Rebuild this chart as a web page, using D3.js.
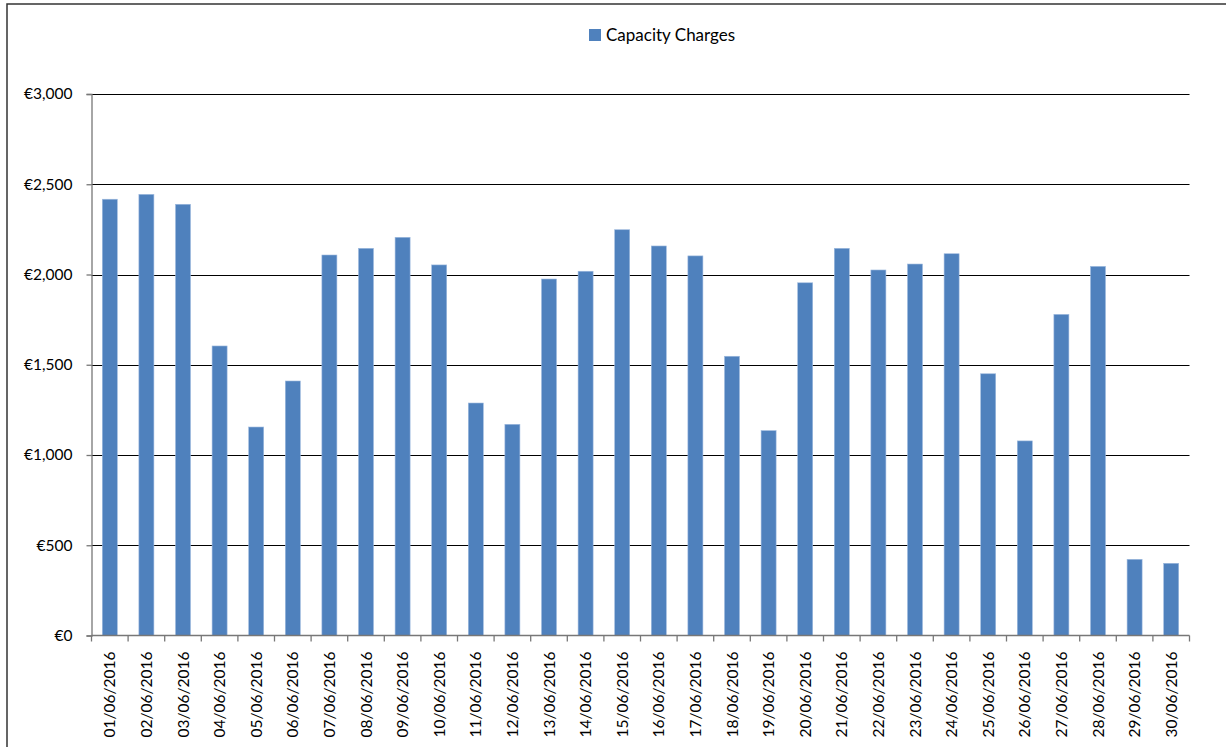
<!DOCTYPE html>
<html>
<head>
<meta charset="utf-8">
<script src="https://cdn.jsdelivr.net/npm/d3@7/dist/d3.min.js"></script>
<style>
  html, body { margin: 0; padding: 0; background: #fff; }
  svg { display: block; }
  text { font-family: Lato, "Open Sans", sans-serif; fill: #000; }
</style>
</head>
<body>
<svg id="chart" width="1226" height="747"></svg>
<script>
const categories = ["01/06/2016","02/06/2016","03/06/2016","04/06/2016","05/06/2016","06/06/2016","07/06/2016","08/06/2016","09/06/2016","10/06/2016","11/06/2016","12/06/2016","13/06/2016","14/06/2016","15/06/2016","16/06/2016","17/06/2016","18/06/2016","19/06/2016","20/06/2016","21/06/2016","22/06/2016","23/06/2016","24/06/2016","25/06/2016","26/06/2016","27/06/2016","28/06/2016","29/06/2016","30/06/2016"];
const capacityCharges = [2417,2444,2389,1604,1155,1410,2108,2145,2206,2053,1288,1170,1975,2018,2248,2158,2103,1547,1135,1954,2145,2025,2058,2115,1450,1078,1779,2045,422,400];
const yTicks = [0,500,1000,1500,2000,2500,3000];
const seriesName = "Capacity Charges";

const svg = d3.select("#chart");
const margin = {left: 91.5, right: 1189.5, top: 94, bottom: 635.5};

// outer chart frame
svg.append("rect").attr("x", 7).attr("y", 4).attr("width", 1240).attr("height", 760)
  .attr("fill", "none").attr("stroke", "#333").attr("stroke-width", 1.5);

const x = d3.scaleBand().domain(categories).range([margin.left, margin.right]).paddingInner(0.59).paddingOuter(0.295);
const xb = d3.scaleBand().domain(categories).range([margin.left, margin.right]);
const y = d3.scaleLinear().domain([0, 3000]).range([margin.bottom, margin.top]);

// gridlines
svg.append("g").selectAll("line").data(yTicks.filter(d => d > 0)).join("line")
  .attr("x1", margin.left).attr("x2", margin.right)
  .attr("y1", d => Math.round(y(d)) + 0.5).attr("y2", d => Math.round(y(d)) + 0.5)
  .attr("stroke", "#000").attr("stroke-width", 1);

// bars
svg.append("g").selectAll("rect").data(capacityCharges).join("rect")
  .attr("x", (d, i) => x(categories[i]))
  .attr("width", x.bandwidth())
  .attr("y", d => y(d))
  .attr("height", d => y(0) - y(d))
  .attr("fill", "#4F81BD")
  .attr("stroke", "#9DB9DE").attr("stroke-width", 0.6);

// y axis
const yAxis = d3.axisLeft(y).tickValues(yTicks).tickSize(5).tickPadding(14)
  .tickFormat(d => "€" + d3.format(",")(d));
const gy = svg.append("g").attr("transform", `translate(${margin.left},0)`).call(yAxis);
gy.select(".domain").attr("stroke", "#777").attr("stroke-width", 1.3);
gy.selectAll(".tick line").attr("stroke", "#777").attr("stroke-width", 1.3);
gy.selectAll("text").attr("font-size", 15.5).attr("fill", "#000").attr("font-family", "Lato, sans-serif");

// x axis
const gx = svg.append("g").attr("transform", `translate(0,${margin.bottom})`);
gx.append("line").attr("x1", margin.left).attr("x2", margin.right).attr("y1", 0).attr("y2", 0)
  .attr("stroke", "#777").attr("stroke-width", 1.3);
const bounds = categories.map(c => xb(c)).concat([margin.right]);
gx.selectAll("line.tk").data(bounds).join("line").attr("class", "tk")
  .attr("x1", d => d).attr("x2", d => d).attr("y1", 0).attr("y2", 6)
  .attr("stroke", "#777").attr("stroke-width", 1.3);
gx.selectAll("text").data(categories).join("text")
  .attr("transform", d => `translate(${xb(d) + xb.bandwidth() / 2 + 5.5},16) rotate(-90)`)
  .attr("text-anchor", "end")
  .attr("font-size", 15.5)
  .text(d => d);

// legend
const lg = svg.append("g").attr("transform", "translate(589,29)");
lg.append("rect").attr("width", 12).attr("height", 12).attr("fill", "#4F81BD");
lg.append("text").attr("x", 17).attr("y", 11.5).attr("font-size", 17).text(seriesName);
</script>
</body>
</html>
